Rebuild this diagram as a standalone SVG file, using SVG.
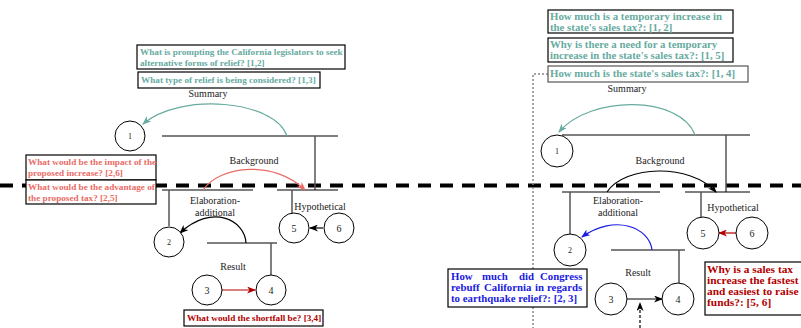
<svg xmlns="http://www.w3.org/2000/svg" width="801" height="328" viewBox="0 0 801 328">
<defs>
<style>
.q{font-family:"Liberation Serif","DejaVu Serif",serif;font-weight:bold}
.ql{font-size:9.2px}
.qr{font-size:10.8px}
.lab{font-family:"Liberation Serif","DejaVu Serif",serif;font-size:10px;fill:#222;text-anchor:middle}
.num{font-family:"Liberation Serif","DejaVu Serif",serif;font-size:10px;fill:#222;text-anchor:middle}
.node{fill:#fff;stroke:#000;stroke-width:1}
.hl{stroke:#000;stroke-width:1.2;fill:none}
.vl{stroke:#555;stroke-width:1.5;fill:none}
.box{fill:#fff;stroke:#000;stroke-width:1.2}
.teal{fill:#67AB9F}
.sal{fill:#EA6B66}
.dred{fill:#B20000}
.blue{fill:#1A1AE0}
</style>
<marker id="aT" markerWidth="9" markerHeight="7" refX="8" refY="3.5" orient="auto" markerUnits="userSpaceOnUse"><path d="M0,0 L9,3.5 L0,7 L2.5,3.5 z" fill="#67AB9F"/></marker>
<marker id="aS" markerWidth="9" markerHeight="7" refX="8" refY="3.5" orient="auto" markerUnits="userSpaceOnUse"><path d="M0,0 L9,3.5 L0,7 L2.5,3.5 z" fill="#EA6B66"/></marker>
<marker id="aK" markerWidth="9" markerHeight="7" refX="8" refY="3.5" orient="auto" markerUnits="userSpaceOnUse"><path d="M0,0 L9,3.5 L0,7 L2.5,3.5 z" fill="#000"/></marker>
<marker id="aR" markerWidth="9" markerHeight="7" refX="8" refY="3.5" orient="auto" markerUnits="userSpaceOnUse"><path d="M0,0 L9,3.5 L0,7 L2.5,3.5 z" fill="#B20000"/></marker>
<marker id="aB" markerWidth="9" markerHeight="7" refX="8" refY="3.5" orient="auto" markerUnits="userSpaceOnUse"><path d="M0,0 L9,3.5 L0,7 L2.5,3.5 z" fill="#1A1AE0"/></marker>
</defs>
<rect width="801" height="328" fill="#fff"/>

<!-- dashed separator -->
<line x1="0" y1="185.5" x2="801" y2="185.5" stroke="#000" stroke-width="4" stroke-dasharray="13 9"/>
<!-- dotted guide right -->
<path d="M548,74 L533,74 L533,328" fill="none" stroke="#888" stroke-width="1.5" stroke-dasharray="2 2"/>

<!-- tree lines -->
<g id="tree-left">
<line class="hl" x1="162" y1="136" x2="338" y2="136"/>
<line class="vl" x1="315" y1="136" x2="315" y2="190"/>
<line class="hl" x1="162" y1="190" x2="253" y2="190"/>
<line class="vl" x1="169" y1="190" x2="169" y2="226"/>
<line class="hl" x1="277" y1="190" x2="338" y2="190"/>
<line class="vl" x1="292" y1="190" x2="292" y2="214"/>
<line class="hl" x1="207" y1="243" x2="277" y2="243"/>
<line class="vl" x1="271" y1="243" x2="271" y2="275"/>
</g>
<g id="tree-right">
<line class="hl" x1="562" y1="135" x2="750" y2="135"/>
<line class="vl" x1="726" y1="135" x2="726" y2="192"/>
<line class="hl" x1="562" y1="192" x2="660" y2="192"/>
<line class="vl" x1="570" y1="192" x2="570" y2="234"/>
<line class="hl" x1="685" y1="192" x2="750" y2="192"/>
<line class="vl" x1="701" y1="192" x2="701" y2="217"/>
<line class="hl" x1="611" y1="250" x2="685" y2="250"/>
<line class="vl" x1="679" y1="250" x2="679" y2="284"/>
</g>

<!-- labels -->
<g id="labels">
<text class="lab" x="208" y="97">Summary</text>
<text class="lab" x="254" y="164">Background</text>
<text class="lab" x="215" y="204">Elaboration-</text>
<text class="lab" x="215" y="216">additional</text>
<text class="lab" x="320" y="210">Hypothetical</text>
<text class="lab" x="233" y="270">Result</text>
<text class="lab" x="627" y="92">Summary</text>
<text class="lab" x="660" y="164">Background</text>
<text class="lab" x="618" y="204">Elaboration-</text>
<text class="lab" x="618" y="216">additional</text>
<text class="lab" x="733" y="211">Hypothetical</text>
<text class="lab" x="638" y="276">Result</text>
</g>

<!-- connectors -->
<g id="connectors" fill="none">
<path d="M287,136 C275,100 180,92 143,124" stroke="#67AB9F" stroke-width="1.2" marker-end="url(#aT)"/>
<path d="M203,190 C220,165 275,160 305,190" stroke="#EA6B66" stroke-width="1.2" marker-end="url(#aS)"/>
<path d="M246,243 C245,220 212,203 180,233" stroke="#000" stroke-width="1.2" marker-end="url(#aK)"/>
<path d="M323,228 L310,228" stroke="#000" stroke-width="1.2" marker-end="url(#aK)"/>
<path d="M222,290 L255,290" stroke="#B20000" stroke-width="1.2" marker-end="url(#aR)"/>
<path d="M695,135 C680,95 590,95 559,132" stroke="#67AB9F" stroke-width="1.2" marker-end="url(#aT)"/>
<path d="M607,192 C625,165 690,163 716,192" stroke="#000" stroke-width="1.2" marker-end="url(#aK)"/>
<path d="M652,250 C650,228 615,213 582,237" stroke="#1A1AE0" stroke-width="1.2" marker-end="url(#aB)"/>
<path d="M736,233 L719,233" stroke="#B20000" stroke-width="1.2" marker-end="url(#aR)"/>
<path d="M627,299 L662,299" stroke="#000" stroke-width="1.2" marker-end="url(#aK)"/>
<path d="M640,328 L640,303" stroke="#000" stroke-width="1.2" stroke-dasharray="3 2" marker-end="url(#aK)"/>
</g>

<!-- left nodes -->
<g id="n1"><circle class="node" cx="130" cy="136" r="15"/><text class="num" x="130" y="139" style="font-size:8px">1</text></g>
<g id="n2"><circle class="node" cx="169" cy="242" r="15"/><text class="num" x="169" y="245" style="font-size:8px">2</text></g>
<g id="n3"><circle class="node" cx="207" cy="290" r="15"/><text class="num" x="207" y="294">3</text></g>
<g id="n4"><circle class="node" cx="271" cy="290" r="15"/><text class="num" x="271" y="294">4</text></g>
<g id="n5"><circle class="node" cx="294" cy="228" r="15"/><text class="num" x="294" y="232">5</text></g>
<g id="n6"><circle class="node" cx="339" cy="228" r="15"/><text class="num" x="339" y="232">6</text></g>

<!-- right nodes -->
<g id="r1"><circle class="node" cx="557" cy="151" r="16"/><text class="num" x="557" y="154" style="font-size:8px">1</text></g>
<g id="r2"><circle class="node" cx="570" cy="250" r="16"/><text class="num" x="570" y="253" style="font-size:8px">2</text></g>
<g id="r3"><circle class="node" cx="611" cy="299" r="16"/><text class="num" x="611" y="303">3</text></g>
<g id="r4"><circle class="node" cx="678" cy="299" r="16"/><text class="num" x="678" y="303">4</text></g>
<g id="r5"><circle class="node" cx="703" cy="233" r="16"/><text class="num" x="703" y="237">5</text></g>
<g id="r6"><circle class="node" cx="752" cy="233" r="16"/><text class="num" x="752" y="237">6</text></g>

<!-- question boxes left -->
<g id="qL1"><rect class="box" x="137" y="45" width="208" height="24"/>
<text class="q ql teal" x="140" y="55">What is prompting the California legislators to seek</text>
<text class="q ql teal" x="140" y="66">alternative forms of relief? [1,2]</text></g>
<g id="qL2"><rect class="box" x="138" y="72" width="182" height="16"/>
<text class="q ql teal" x="141" y="83">What type of relief is being considered? [1,3]</text></g>
<g id="qL3"><rect class="box" x="26" y="155" width="130" height="25"/>
<text class="q ql sal" x="28" y="165">What would be the impact of the</text>
<text class="q ql sal" x="28" y="176">proposed increase? [2,6]</text></g>
<g id="qL4"><rect class="box" x="26" y="180" width="130" height="24"/>
<text class="q ql sal" x="28" y="190">What would be the advantage of</text>
<text class="q ql sal" x="28" y="201">the proposed tax? [2,5]</text></g>
<g id="qL5"><rect class="box" x="184" y="310" width="139" height="16"/>
<text class="q ql dred" x="187" y="321">What would the shortfall be? [3,4]</text></g>

<!-- question boxes right -->
<g id="qR1"><rect class="box" x="548" y="10" width="185" height="23"/>
<text class="q qr teal" x="550" y="20">How much is a temporary increase in</text>
<text class="q qr teal" x="550" y="31">the state's sales tax?: [1, 2]</text></g>
<g id="qR2"><rect class="box" x="548" y="38" width="185" height="24"/>
<text class="q qr teal" x="550" y="48">Why is there a need for a temporary</text>
<text class="q qr teal" x="550" y="59">increase in the state's sales tax?: [1, 5]</text></g>
<g id="qR3"><rect class="box" x="548" y="66" width="200" height="16" style="stroke:#555"/>
<text class="q qr teal" x="550" y="77">How much is the state's sales tax?: [1, 4]</text></g>
<g id="qR4"><rect class="box" x="448" y="269" width="139" height="38"/>
<text class="q qr blue" y="280"><tspan x="451">How</tspan> <tspan x="482">much</tspan> <tspan x="519">did</tspan> <tspan x="540">Congress</tspan></text>
<text class="q qr blue" y="291"><tspan x="451">rebuff</tspan> <tspan x="484">California</tspan> <tspan x="535">in</tspan> <tspan x="547">regards</tspan></text>
<text class="q qr blue" x="451" y="302">to earthquake relief?: [2, 3]</text></g>
<g id="qR5"><rect class="box" x="705" y="262" width="100" height="53"/>
<text class="q qr dred" x="707" y="273" style="font-size:11.4px">Why is a sales tax</text>
<text class="q qr dred" x="707" y="284" style="font-size:11.4px">increase the fastest</text>
<text class="q qr dred" x="707" y="295" style="font-size:11.4px">and easiest to raise</text>
<text class="q qr dred" x="707" y="306" style="font-size:11.4px">funds?: [5, 6]</text></g>
</svg>
